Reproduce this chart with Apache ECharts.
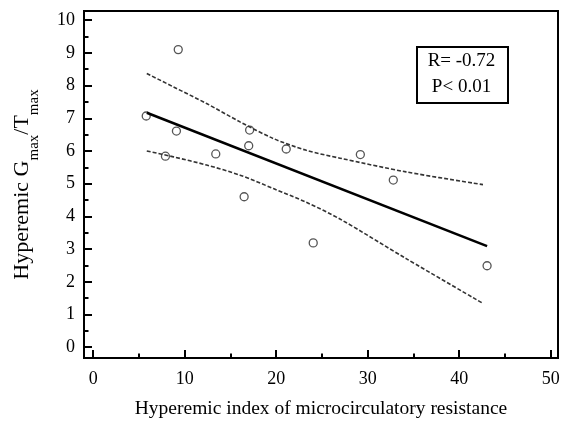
<!DOCTYPE html>
<html>
<head>
<meta charset="utf-8">
<script src="https://cdn.jsdelivr.net/npm/echarts@6/dist/echarts.min.js"></script>
<style>
html,body{margin:0;padding:0;background:#fff;}
#chart{width:565px;height:422px;}
</style>
</head>
<body>
<div id="chart"></div>
<script>
// Scatter points: hyperemic IMR vs hyperemic Gmax/Tmax
var pointX = [9.3, 5.8, 9.1, 17.1, 17.0, 21.1, 29.2, 7.9, 13.4, 16.5, 32.8, 24.05, 43.05];
var pointY = [9.1, 7.07, 6.61, 6.64, 6.16, 6.06, 5.89, 5.84, 5.91, 4.6, 5.11, 3.19, 2.49];

// Regression line endpoints
var fitX = [5.86, 43.05];
var fitY = [7.17, 3.09];

// 95% confidence bands
var bandX = [5.86, 8.77, 12.4, 16.05, 19.7, 23.3, 26.97, 34.2, 42.6];
var upperY = [8.37, 7.96, 7.45, 6.89, 6.38, 6.02, 5.78, 5.36, 4.97];
var lowerY = [6.0, 5.82, 5.57, 5.26, 4.85, 4.43, 3.92, 2.71, 1.34];

// Axis settings
var xTickLabels = [0, 10, 20, 30, 40, 50];
var yTickLabels = [0, 1, 2, 3, 4, 5, 6, 7, 8, 9, 10];
var statText = ['R= -0.72', 'P< 0.01'];

function zip(xs, ys) { return xs.map(function (x, i) { return [x, ys[i]]; }); }

var FONT = 'Liberation Serif';
var chart = echarts.init(document.getElementById('chart'), null, {renderer: 'canvas'});

function isLabel(list, v) {
  for (var i = 0; i < list.length; i++) if (Math.abs(list[i] - v) < 1e-6) return true;
  return false;
}

var option = {
  animation: false,
  backgroundColor: '#fff',
  grid: {
    left: 84, top: 11, width: 474, height: 347,
    outerBoundsMode: 'none', containLabel: false,
    show: true, borderColor: '#000', borderWidth: 2, backgroundColor: 'transparent'
  },
  xAxis: [{
    type: 'value', min: -1, max: 50.8, splitNumber: 5,
    position: 'bottom',
    axisLine: {show: true, onZero: false, lineStyle: {color: '#000', width: 2}},
    axisTick: {show: true, inside: true, length: 8, lineStyle: {color: '#000', width: 2}},
    axisLabel: {
      margin: 12, color: '#000', fontFamily: FONT, fontSize: 18,
      formatter: function (v) { return isLabel(xTickLabels, v) ? String(Math.round(v)) : ''; }
    },
    splitLine: {show: false},
    name: 'Hyperemic index of microcirculatory resistance',
    nameLocation: 'middle', nameGap: 41,
    nameTextStyle: {color: '#000', fontFamily: FONT, fontSize: 19.5}
  }, {
    type: 'value', min: -1, max: 50.8, splitNumber: 10,
    position: 'bottom',
    axisLine: {show: false, onZero: false},
    axisTick: {show: true, inside: true, length: 4.5, lineStyle: {color: '#000', width: 2}},
    axisLabel: {show: false},
    splitLine: {show: false}
  }],
  yAxis: [{
    type: 'value', min: -0.33, max: 10.28, splitNumber: 10,
    position: 'left',
    axisLine: {show: true, onZero: false, lineStyle: {color: '#000', width: 2}},
    axisTick: {show: true, inside: true, length: 8, lineStyle: {color: '#000', width: 2}},
    axisLabel: {
      margin: 9, color: '#000', fontFamily: FONT, fontSize: 18,
      formatter: function (v) { return isLabel(yTickLabels, v) ? String(Math.round(v)) : ''; }
    },
    splitLine: {show: false},
    name: '{t|Hyperemic G}{s|max}{t|/T}{s|max}',
    nameLocation: 'middle', nameGap: 42,
    nameTextStyle: {
      color: '#000', fontFamily: FONT, fontSize: 22,
      rich: {
        t: {fontFamily: FONT, fontSize: 22, color: '#000', verticalAlign: 'top'},
        s: {fontFamily: FONT, fontSize: 15, color: '#000', verticalAlign: 'top', padding: [16, 0, 0, 0]}
      }
    }
  }, {
    type: 'value', min: -0.33, max: 10.28, splitNumber: 20,
    position: 'left',
    axisLine: {show: false, onZero: false},
    axisTick: {show: true, inside: true, length: 4.5, lineStyle: {color: '#000', width: 2}},
    axisLabel: {show: false},
    splitLine: {show: false}
  }],
  series: [{
    type: 'line', xAxisIndex: 0, yAxisIndex: 0,
    data: zip(bandX, upperY), smooth: 0.3, showSymbol: false, silent: true,
    lineStyle: {color: '#333', width: 1.6, type: [4, 2]}
  }, {
    type: 'line', xAxisIndex: 0, yAxisIndex: 0,
    data: zip(bandX, lowerY), smooth: 0.3, showSymbol: false, silent: true,
    lineStyle: {color: '#333', width: 1.6, type: [4, 2]}
  }, {
    type: 'line', xAxisIndex: 0, yAxisIndex: 0,
    data: zip(fitX, fitY), showSymbol: false, silent: true,
    lineStyle: {color: '#000', width: 2.5}
  }, {
    type: 'scatter', xAxisIndex: 0, yAxisIndex: 0,
    data: zip(pointX, pointY), symbol: 'circle', symbolSize: 8,
    itemStyle: {color: '#fff', borderColor: '#555', borderWidth: 1.3, opacity: 1}
  }],
  graphic: [{
    type: 'rect', left: 416, top: 46, z: 10,
    shape: {width: 91, height: 56},
    style: {fill: '#fff', stroke: '#000', lineWidth: 2}
  }, {
    type: 'text', x: 461.5, y: 74, z: 11,
    style: {
      text: statText.join('\n'), fontFamily: FONT, fontSize: 19, lineHeight: 26,
      fill: '#000', align: 'center', verticalAlign: 'middle'
    }
  }]
};
chart.setOption(option);
</script>
</body>
</html>
